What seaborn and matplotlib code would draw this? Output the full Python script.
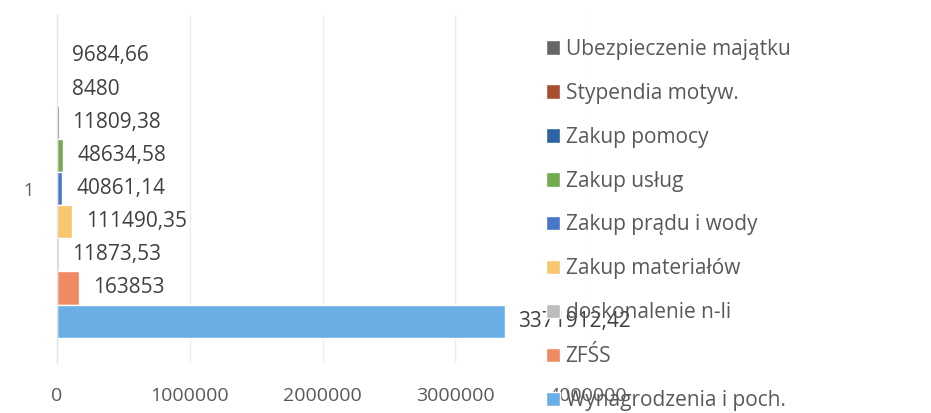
import matplotlib
matplotlib.use("Agg")
import matplotlib.pyplot as plt
import matplotlib.ticker as mticker
import seaborn as sns
import pandas as pd

# Data (legend order top -> bottom)
series = ["Ubezpieczenie majątku", "Stypendia motyw.", "Zakup pomocy", "Zakup usług",
          "Zakup prądu i wody", "Zakup materiałów", "doskonalenie n-li", "ZFŚS",
          "Wynagrodzenia i poch."]
values = [9684.66, 8480, 11809.38, 48634.58, 40861.14, 111490.35, 11873.53, 163853, 3371912.42]
category = "1"
colors = ["#666666", "#A8502E", "#2E62A0", "#74AA50", "#4A76C8", "#F8C66E", "#BDBDBD",
          "#EF8A62", "#6AAEE6"]
xticks = [0, 1000000, 2000000, 3000000, 4000000]

df = pd.DataFrame({"cat": [category] * len(series), "series": series, "value": values})

sns.set_theme(style="white")
plt.rcParams['font.family'] = ['Open Sans', 'DejaVu Sans']

fig = plt.figure(figsize=(9.31, 4.13), dpi=100)
ax = fig.add_axes([57 / 931, 1 - 362 / 413, (588 - 57) / 931, (362 - 15) / 413])

sns.barplot(data=df, x="value", y="cat", hue="series", hue_order=series,
            palette=dict(zip(series, colors)), orient="h", width=0.86, ax=ax,
            saturation=1, errorbar=None)

ax.set_xlim(0, 4000000)
ax.set_xticks(xticks)
ax.xaxis.set_major_formatter(mticker.FuncFormatter(lambda v, p: f"{int(v)}"))
ax.grid(axis="x", color="#EDEDED", linewidth=1)
ax.set_axisbelow(True)
for s in ["top", "right", "bottom"]:
    ax.spines[s].set_visible(False)
ax.spines["left"].set_color("#E3E3E3")
ax.spines["left"].set_linewidth(1)
ax.set_xlabel("")
ax.set_ylabel("")
ax.tick_params(axis="x", length=0, pad=18, labelsize=14, labelcolor="#595959")
ax.tick_params(axis="y", length=0, pad=17, labelsize=13, labelcolor="#595959")


def fmt(v):
    if float(v).is_integer():
        return f"{int(v)}"
    return f"{v:.2f}".replace(".", ",")


for cont, v in zip(ax.containers, values):
    ax.bar_label(cont, labels=[fmt(v)], padding=10, fontsize=15, color="#404040",
                 clip_on=False)

sns.move_legend(ax, "upper left", bbox_to_anchor=(527 / 931, 1 - 20 / 413),
                bbox_transform=fig.transFigure, frameon=False, title=None,
                fontsize=15, labelspacing=1.1, handlelength=0.7, handleheight=0.7,
                handletextpad=0.25, labelcolor="#595959")

fig.savefig("out.png", dpi=100)
